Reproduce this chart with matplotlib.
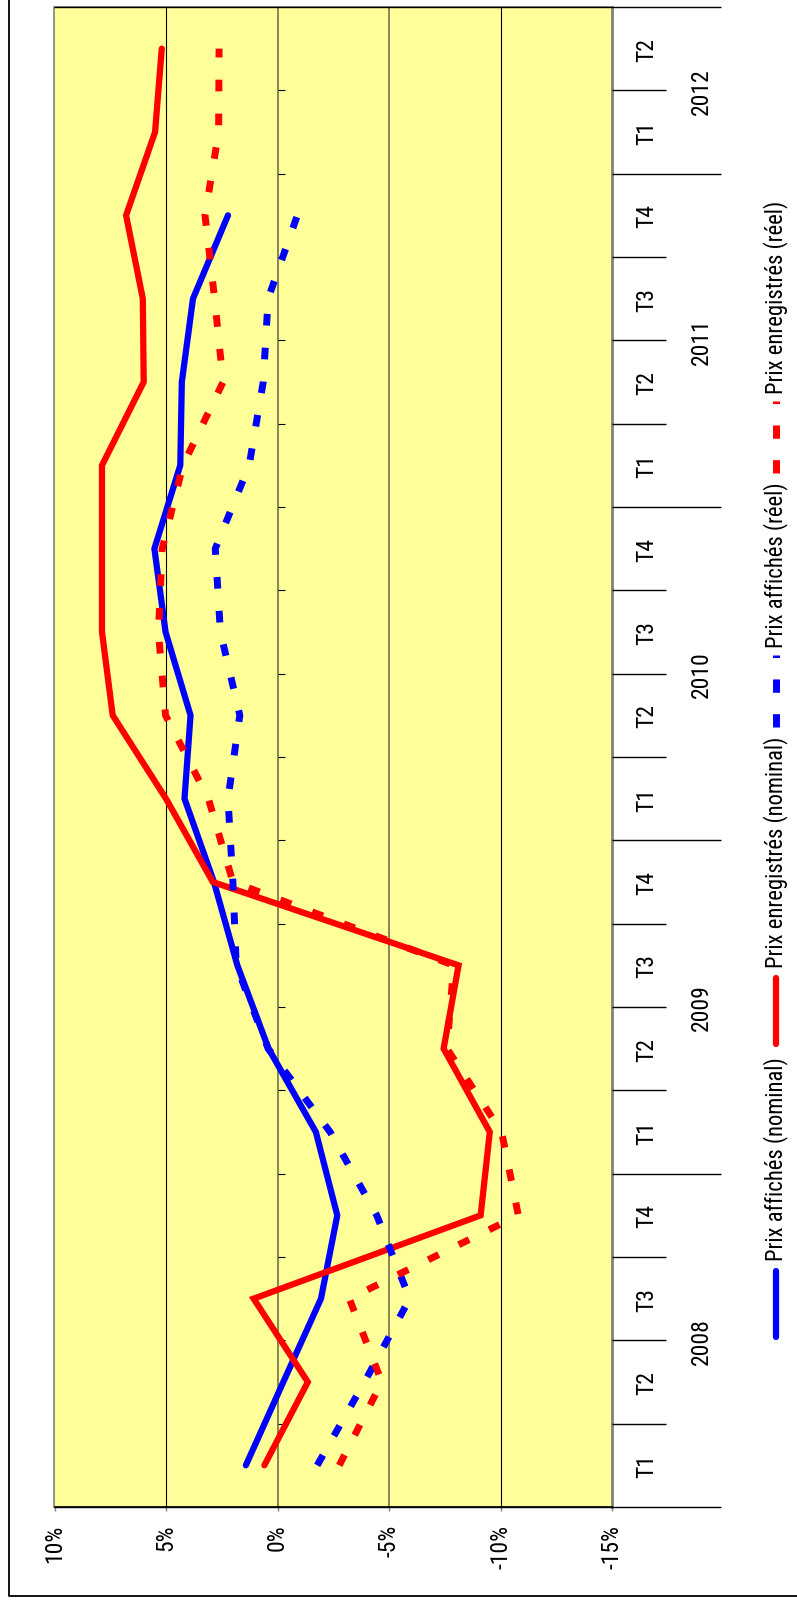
import numpy as np
import matplotlib
matplotlib.use("Agg")
import matplotlib.pyplot as plt
from matplotlib import font_manager
from matplotlib.lines import Line2D
from matplotlib.transforms import blended_transform_factory

# ---- data (quarterly change, %) ----
quarters = ["T1", "T2", "T3", "T4", "T1", "T2", "T3", "T4", "T1", "T2", "T3", "T4",
            "T1", "T2", "T3", "T4", "T1", "T2"]
years = ["2008", "2009", "2010", "2011", "2012"]
year_quarters = [4, 4, 4, 4, 2]

affiches_nominal = [1.42, -0.26, -1.95, -2.68, -1.72, 0.40, 1.80, 2.85, 4.17, 3.90,
                    5.02, 5.52, 4.36, 4.29, 3.79, 2.22, np.nan, np.nan]
enregistres_nominal = [0.59, -1.36, 1.07, -9.11, -9.52, -7.45, -8.12, 2.90, 5.00, 7.39,
                       7.87, 7.87, 7.87, 6.00, 6.04, 6.79, 5.49, 5.19]
affiches_reel = [-1.78, -3.90, -5.93, -4.45, -2.36, 0.42, 1.85, 2.00, 2.22, 1.69,
                 2.56, 2.79, 1.27, 0.64, 0.42, -0.89, np.nan, np.nan]
enregistres_reel = [-2.77, -4.68, -3.22, -10.80, -10.05, -7.60, -7.90, 2.00, 3.10, 5.02,
                    5.34, 5.17, 4.24, 2.44, 2.82, 3.25, 2.64, 2.62]

value_ticks = [10, 5, 0, -5, -10, -15]
value_labels = ["10%", "5%", "0%", "-5%", "-10%", "-15%"]

series_labels = ["Prix affichés (nominal)", "Prix enregistrés (nominal)",
                 "Prix affichés (réel)", "Prix enregistrés (réel)"]

# ---- fonts ----
names = {f.name for f in font_manager.fontManager.ttflist}
FONT = "DejaVu Sans"
for cand in ["Liberation Sans Narrow", "Roboto Condensed", "Liberation Sans", "DejaVu Sans"]:
    if cand in names:
        FONT = cand
        break
plt.rcParams["font.family"] = [FONT, "DejaVu Sans"]
plt.rcParams["lines.scale_dashes"] = False
FS = 17

W, H = 797, 1608
fig = plt.figure(figsize=(W / 100, H / 100), dpi=100)
fig.patch.set_facecolor("white")


def fx(px):
    return px / W


def fy(py):
    return 1 - py / H


PL, PR, PT, PB = 54.5, 612.0, 8.0, 1508.0
ax = fig.add_axes([fx(PL), fy(PB), fx(PR - PL), (PB - PT) / H])
ax.set_facecolor("#FFFF99")

n = len(quarters)
idx = np.arange(n)
ax.set_xlim(10, -15)
ax.set_ylim(-0.5, n - 0.5)

# grid lines (horizontal in the unrotated chart)
for v, col, lw in [(5, "black", 0.8), (0, "#7d7d50", 1.3), (-5, "#7d7d50", 1.3), (-10, "black", 0.8)]:
    ax.axvline(v, color=col, lw=lw, zorder=1)

# small category ticks on the zero line
for k in range(1, n):
    ax.plot([0, -0.33], [k - 0.5, k - 0.5], color="black", lw=0.8, zorder=1,
            solid_capstyle="butt")

LW_SOLID, LW_DASH = 4.5, 5.0
dash = (0, (8.4, 16.0))
ax.plot(affiches_nominal, idx, color="#0000FF", lw=LW_SOLID, solid_capstyle="round",
        solid_joinstyle="miter", zorder=3)
ax.plot(enregistres_nominal, idx, color="#FF0000", lw=LW_SOLID, solid_capstyle="round",
        solid_joinstyle="miter", zorder=3)
ax.plot(affiches_reel, idx, color="#0000FF", lw=LW_DASH, linestyle=dash,
        dash_capstyle="butt", zorder=3)
ax.plot(enregistres_reel, idx, color="#FF0000", lw=LW_DASH, linestyle=dash,
        dash_capstyle="butt", zorder=3)

# spines
for s in ["left", "top", "right"]:
    ax.spines[s].set_color("#808080")
    ax.spines[s].set_linewidth(1.2)
ax.spines["right"].set_linewidth(2.0)
ax.spines["bottom"].set_color("black")
ax.spines["bottom"].set_linewidth(1.2)

ax.set_yticks([])
ax.set_xticks(value_ticks)
ax.set_xticklabels(value_labels, rotation=90, fontsize=FS, va="top", ha="center")
ax.tick_params(axis="x", direction="out", length=3, width=1, color="#808080", pad=9)

# category axis on the right side
tr = blended_transform_factory(fig.transFigure, ax.transData)
for i, q in enumerate(quarters):
    ax.text(fx(646.5), i, q, transform=tr, rotation=90, ha="center", va="center",
            fontsize=FS, clip_on=False)
start = 0
year_bounds = [0]
for y, nq in zip(years, year_quarters):
    center = start + (nq - 1) / 2
    ax.text(fx(701.5), center, y, transform=tr, rotation=90, ha="center", va="center",
            fontsize=FS, clip_on=False)
    start += nq
    year_bounds.append(start)
for k in range(n + 1):
    x_end = 721 if k in year_bounds else 666
    x_start = PL if k in (0, n) else PR
    fig.add_artist(Line2D([fx(x_start), fx(x_end)], [k - 0.5, k - 0.5], transform=tr,
                          color="black", lw=1.0, solid_capstyle="butt"))

# legend, drawn along the right edge (pixel positions measured from the top)
LX = 776
HANDLE, GAP_H, GAP_T = 72, 8, 10
renderer = fig.canvas.get_renderer()
probes = [fig.text(0, 0, s, fontsize=10, rotation=90) for s in series_labels]
lens10 = [p.get_window_extent(renderer).height for p in probes]
for p in probes:
    p.remove()
FS_LEG = 10 * 230 / lens10[1]
lens = [l * FS_LEG / 10 for l in lens10]
leg_dash = (0, (9.6, 15.4))

styles = [("#0000FF", "-"), ("#FF0000", "-"), ("#0000FF", "--"), ("#FF0000", "--")]
ypos = 1048 + GAP_T + lens[0] + GAP_H + HANDLE
for label, (col, ls), ln in zip(series_labels, styles, lens):
    y0, y1 = ypos, ypos - HANDLE
    if ls == "-":
        fig.add_artist(Line2D([fx(LX), fx(LX)], [fy(y0 - 3), fy(y1 + 3)], color=col,
                              lw=LW_SOLID, solid_capstyle="round"))
    else:
        fig.add_artist(Line2D([fx(LX), fx(LX)], [fy(y0), fy(y1)], color=col, lw=LW_DASH,
                              linestyle=leg_dash, dash_capstyle="butt"))
    ty = y1 - GAP_H
    fig.text(fx(LX), fy(ty), label, rotation=90, rotation_mode="anchor", ha="left",
             va="center", fontsize=FS_LEG)
    ypos = ty - ln - GAP_T

# outer frame (left and bottom edges)
fig.add_artist(Line2D([fx(9), fx(9), 1.0], [1.0, fy(1597), fy(1597)], color="black", lw=1.3))

fig.savefig("out.png", dpi=100)
